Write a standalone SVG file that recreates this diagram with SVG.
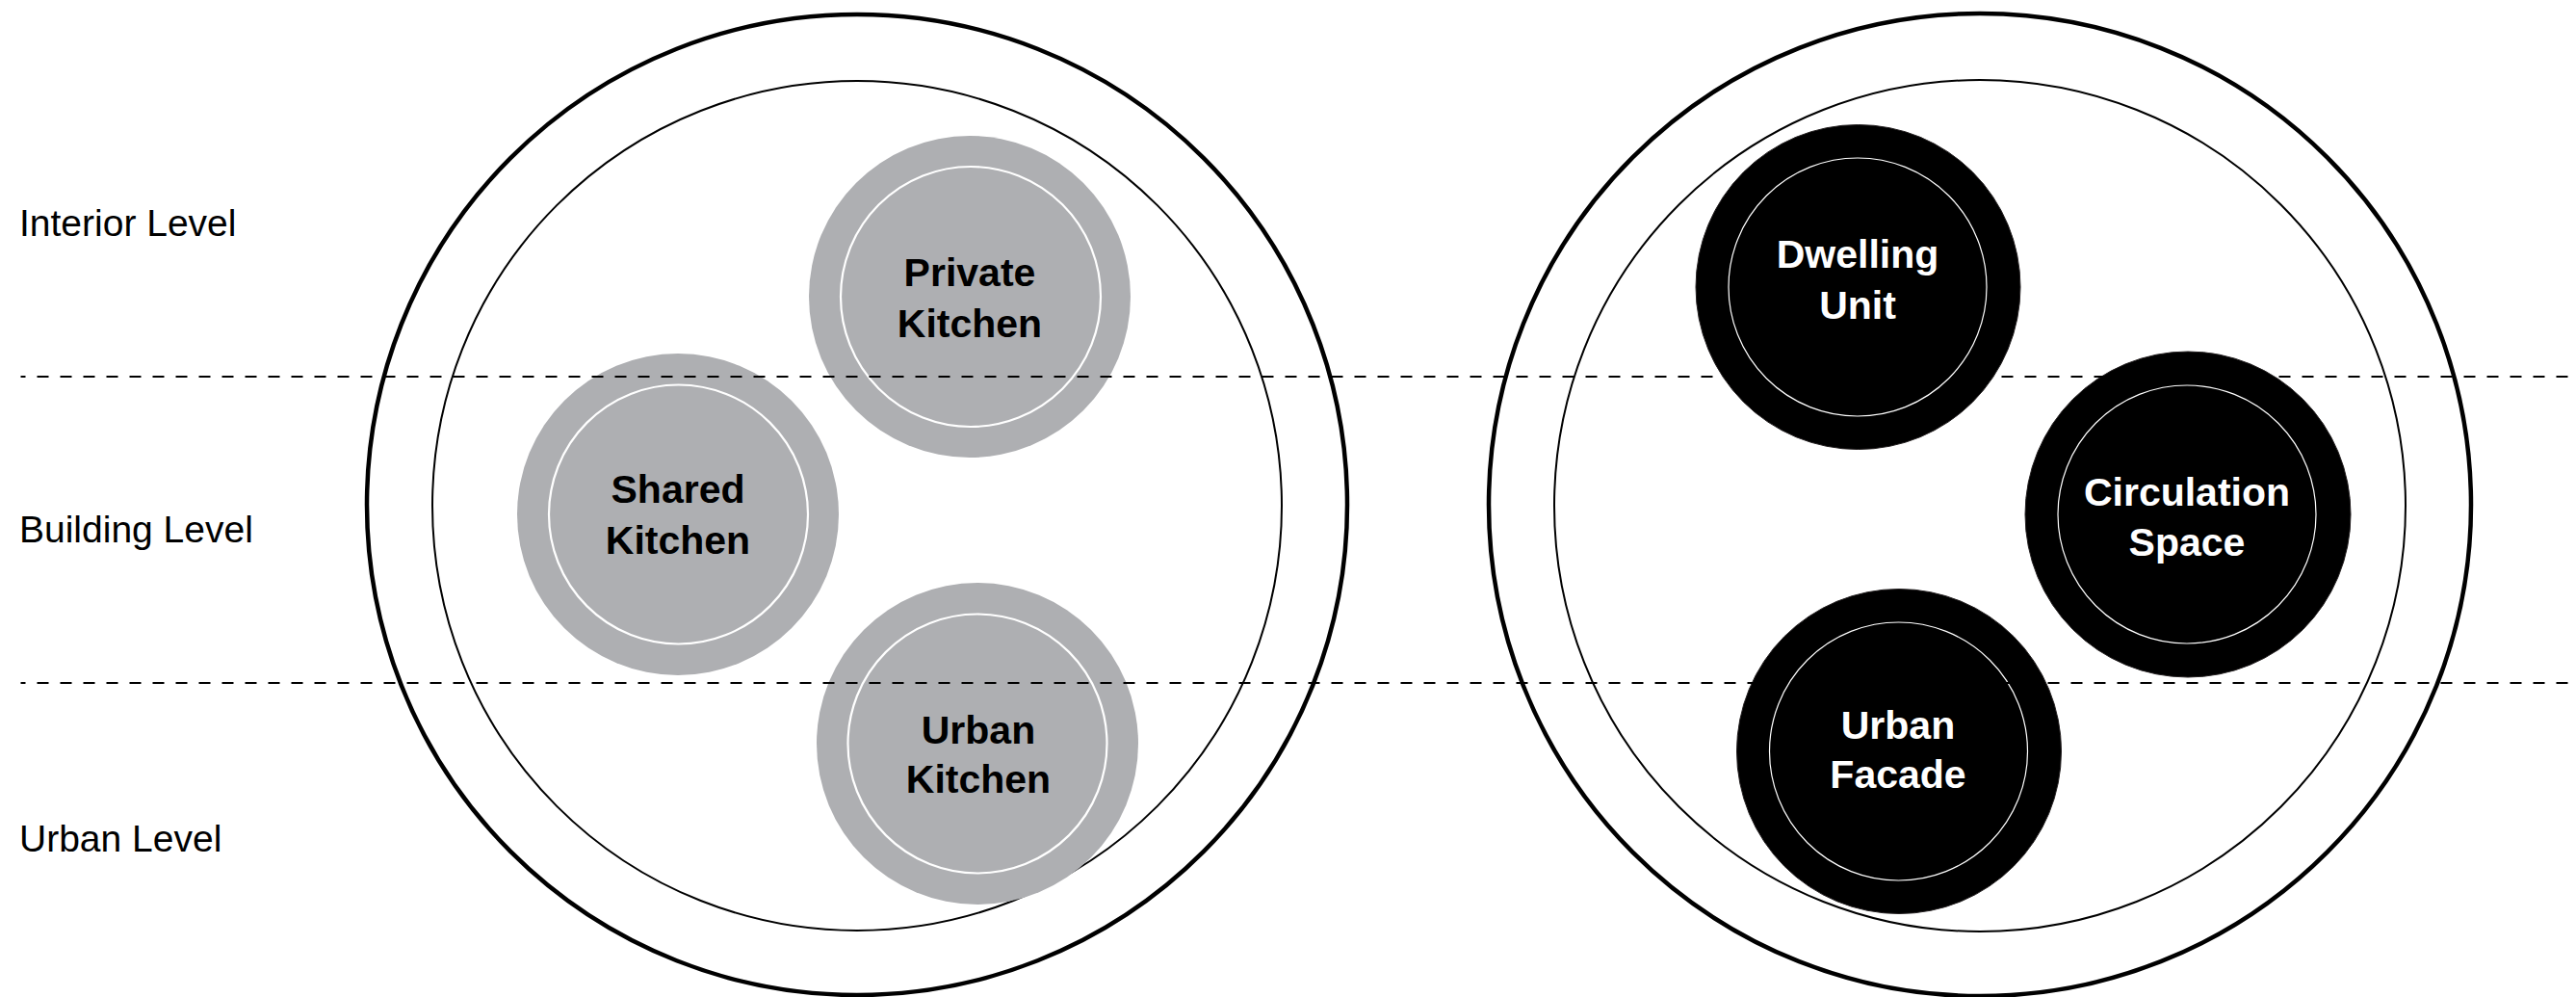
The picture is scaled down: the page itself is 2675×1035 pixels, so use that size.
<svg xmlns="http://www.w3.org/2000/svg" width="2675" height="1035" viewBox="0 0 2675 1035">
  <style>
    .ring-outer { fill: none; stroke: #000; stroke-width: 4.5; }
    .ring-inner { fill: none; stroke: #000; stroke-width: 2; }
    .grey { fill: #AEAFB2; }
    .grey-in { fill: none; stroke: #fff; stroke-width: 2.2; }
    .black { fill: #000; stroke: #231F20; stroke-width: 1; }
    .black-in { fill: none; stroke: #fff; stroke-width: 1.2; }
    .level { font-family: "Liberation Sans", Arial, sans-serif; font-size: 39px; fill: #000; }
    .lbl-dark { font-family: "Liberation Sans", Arial, sans-serif; font-weight: bold; font-size: 41px; fill: #000; text-anchor: middle; }
    .lbl-light { font-family: "Liberation Sans", Arial, sans-serif; font-weight: bold; font-size: 41px; fill: #fff; text-anchor: middle; }
    .dash { stroke: #000; stroke-width: 2; stroke-dasharray: 12 12; stroke-dashoffset: 7; fill: none; }
  </style>
  <rect width="2675" height="1035" fill="#fff"/>

  <g id="left-rings">
    <circle class="ring-outer" cx="890" cy="524" r="509"/>
    <circle class="ring-inner" cx="890" cy="525" r="441"/>
  </g>
  <g id="right-rings">
    <circle class="ring-outer" cx="2056" cy="524" r="510"/>
    <circle class="ring-inner" cx="2056" cy="525" r="442"/>
  </g>

  <g id="private-kitchen">
    <circle class="grey" cx="1007" cy="308" r="167"/>
    <circle class="grey-in" cx="1008" cy="308" r="135"/>
    <text class="lbl-dark" x="1007" y="297">Private</text>
    <text class="lbl-dark" x="1007" y="350">Kitchen</text>
  </g>
  <g id="shared-kitchen">
    <circle class="grey" cx="704" cy="534" r="167"/>
    <circle class="grey-in" cx="704.5" cy="534" r="134.5"/>
    <text class="lbl-dark" x="704" y="522">Shared</text>
    <text class="lbl-dark" x="704" y="575">Kitchen</text>
  </g>
  <g id="urban-kitchen">
    <circle class="grey" cx="1015" cy="772" r="167"/>
    <circle class="grey-in" cx="1015" cy="772" r="134.5"/>
    <text class="lbl-dark" x="1016" y="772">Urban</text>
    <text class="lbl-dark" x="1016" y="823">Kitchen</text>
  </g>

  <g id="dwelling-unit">
    <circle class="black" cx="1929.5" cy="298" r="168.5"/>
    <circle class="black-in" cx="1929" cy="298" r="134"/>
    <text class="lbl-light" x="1929" y="278">Dwelling</text>
    <text class="lbl-light" x="1929" y="331">Unit</text>
  </g>
  <g id="circulation-space">
    <circle class="black" cx="2272" cy="534" r="169"/>
    <circle class="black-in" cx="2271" cy="534" r="134"/>
    <text class="lbl-light" x="2271" y="525">Circulation</text>
    <text class="lbl-light" x="2271" y="577">Space</text>
  </g>
  <g id="urban-facade">
    <circle class="black" cx="1972" cy="780" r="168.5"/>
    <circle class="black-in" cx="1971.5" cy="780" r="134"/>
    <text class="lbl-light" x="1971" y="767">Urban</text>
    <text class="lbl-light" x="1971" y="818">Facade</text>
  </g>

  <g id="connectors">
    <line class="dash" x1="21.5" y1="391" x2="2675" y2="391"/>
    <line class="dash" x1="21.5" y1="709" x2="2675" y2="709"/>
  </g>

  <g id="level-labels">
    <text class="level" x="20" y="245">Interior Level</text>
    <text class="level" x="20" y="563">Building Level</text>
    <text class="level" x="20" y="884">Urban Level</text>
  </g>
</svg>
